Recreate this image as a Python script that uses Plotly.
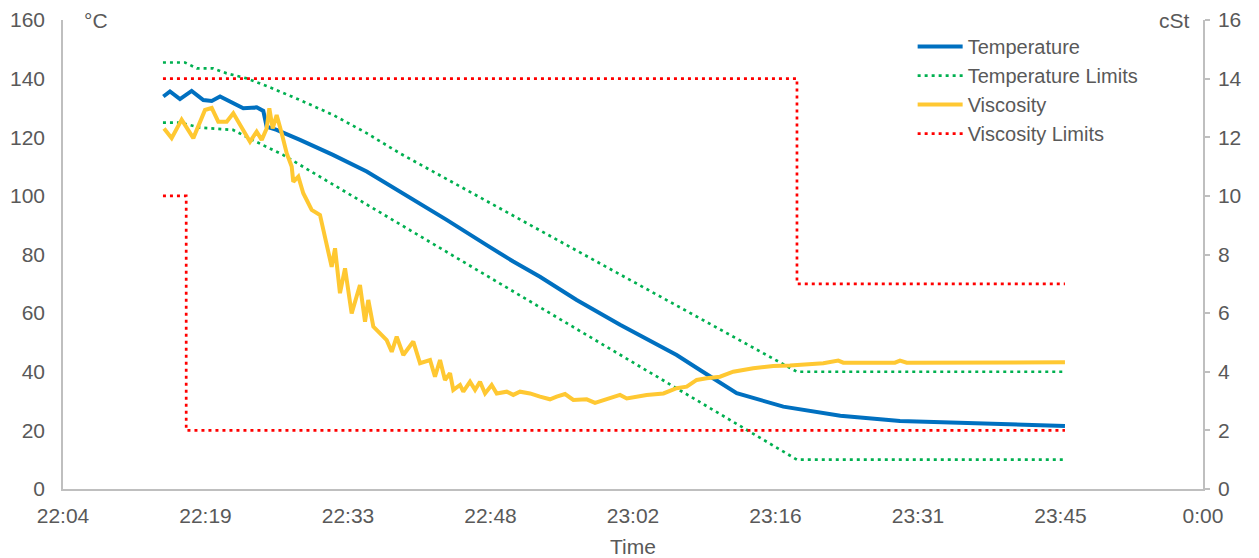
import pandas as pd
import plotly.graph_objects as go

# ---- data (time = minutes after 22:00) ----
temp_t = [14.94, 15.61, 16.62, 17.80, 18.98, 19.83, 20.67, 22.01, 23.02, 24.37, 25.04, 25.38,
          26.39, 28.75, 32.08, 35.49, 38.85, 43.57, 47.62, 50.3, 53.0, 56.71, 61.09, 66.81,
          69.17, 72.88, 77.59, 83.35, 89.38, 96.12, 102.85, 106.05]
temp_v = [133.9, 135.6, 133.0, 135.8, 132.7, 132.4, 133.9, 131.4, 129.9, 130.2, 129.0, 123.6,
          122.5, 119.1, 114.0, 108.3, 101.5, 91.8, 83.2, 77.6, 72.4, 64.5, 56.0, 45.7,
          40.6, 32.7, 28.1, 25.0, 23.2, 22.6, 21.8, 21.5]

tlim_hi_t = [14.9, 17.13, 18.34, 19.96, 21.34, 23.36, 25.38, 28.75, 32.11, 35.49, 38.85, 78.97, 106.05]
tlim_hi_v = [145.5, 145.5, 143.5, 143.5, 141.8, 140.1, 137.5, 132.7, 127.6, 121.4, 114.5, 40.0, 40.0]
tlim_lo_t = [14.9, 16.62, 18.64, 21.98, 24.0, 27.03, 78.97, 106.05]
tlim_lo_v = [125.0, 125.0, 123.3, 122.5, 119.0, 114.0, 10.0, 10.0]

visc_t = [15.01, 15.78, 16.79, 17.97, 19.15, 19.83, 20.49, 21.34, 22.01, 22.69, 23.70, 24.37,
          24.88, 25.38, 25.65, 25.99, 26.39, 26.90, 27.41, 27.91, 28.07, 28.58, 29.08, 29.43,
          29.93, 30.77, 31.45, 31.95, 32.29, 32.79, 33.30, 33.97, 34.81, 35.32, 35.65, 36.16,
          37.51, 38.02, 38.52, 39.19, 40.20, 40.88,
          41.89, 42.39, 42.90, 43.40, 43.91, 44.24, 44.92, 45.25, 45.93, 46.44, 46.94, 47.45,
          48.12, 48.63, 49.64, 50.30, 50.98, 51.99, 53.00, 54.01, 54.69, 55.53, 56.37, 57.72,
          58.56, 59.40, 61.09, 61.77, 63.78, 65.48, 66.81, 67.83, 68.84, 69.85,
          71.19, 72.53, 74.55, 76.57, 78.26, 81.63, 83.14, 83.65, 88.87, 89.38, 90.06, 106.05]
visc_v = [12.3, 11.97, 12.6, 11.97, 12.93, 13.0, 12.53, 12.53, 12.82, 12.42, 11.85, 12.19,
          11.91, 12.3, 12.99, 12.3, 12.76, 12.14, 11.45, 11.0, 10.48, 10.66, 10.09, 9.86,
          9.52, 9.35, 8.38, 7.58, 8.21, 6.68, 7.53, 5.99, 6.96, 5.71, 6.45, 5.54,
          5.08, 4.68, 5.2, 4.57, 5.03, 4.29,
          4.40, 3.83, 4.40, 3.72, 3.95, 3.38, 3.55, 3.32, 3.66, 3.38, 3.66, 3.26,
          3.55, 3.26, 3.32, 3.21, 3.32, 3.26, 3.15, 3.06, 3.15, 3.24, 3.04, 3.06,
          2.94, 3.04, 3.21, 3.09, 3.21, 3.26, 3.44, 3.49, 3.72, 3.78,
          3.83, 4.0, 4.12, 4.2, 4.21, 4.29, 4.38, 4.31, 4.31, 4.38, 4.31, 4.32]

vlim_hi_t = [14.9, 78.97, 78.97, 106.05]
vlim_hi_v = [14, 14, 7, 7]
vlim_lo_t = [14.9, 17.25, 17.25, 106.05]
vlim_lo_v = [10, 10, 2, 2]

tick_labels = ["22:04", "22:19", "22:33", "22:48", "23:02", "23:16", "23:31", "23:45", "0:00"]

BASE = pd.Timestamp("2024-01-01 22:00:00")


def ts(mins):
    return [BASE + pd.Timedelta(minutes=m) for m in mins]


tick_vals = [BASE + pd.Timedelta(minutes=4.8 + 14.4 * i) for i in range(len(tick_labels))]

FONT = "Liberation Sans, Arial, sans-serif"
GREY = "#595959"
AX = "#BFBFBF"
DOT = "3px,4px"

fig = go.Figure()
fig.add_trace(go.Scatter(x=ts(temp_t), y=temp_v, name="Temperature", mode="lines",
                         line=dict(color="#0070C0", width=4), legendrank=1))
fig.add_trace(go.Scatter(x=ts(tlim_hi_t), y=tlim_hi_v, name="Temperature Limits", mode="lines",
                         line=dict(color="#00B050", width=2.7, dash=DOT), legendrank=2,
                         legendgroup="tl"))
fig.add_trace(go.Scatter(x=ts(tlim_lo_t), y=tlim_lo_v, name="Temperature Limits", mode="lines",
                         line=dict(color="#00B050", width=2.7, dash=DOT), showlegend=False,
                         legendgroup="tl"))
fig.add_trace(go.Scatter(x=ts(visc_t), y=visc_v, name="Viscosity", mode="lines", yaxis="y2",
                         line=dict(color="#FFC832", width=4), legendrank=3))
fig.add_trace(go.Scatter(x=ts(vlim_hi_t), y=vlim_hi_v, name="Viscosity Limits", mode="lines",
                         yaxis="y2", line=dict(color="#FF0000", width=2.7, dash=DOT),
                         legendrank=4, legendgroup="vl"))
fig.add_trace(go.Scatter(x=ts(vlim_lo_t), y=vlim_lo_v, name="Viscosity Limits", mode="lines",
                         yaxis="y2", line=dict(color="#FF0000", width=2.7, dash=DOT),
                         showlegend=False, legendgroup="vl"))

fig.update_layout(
    width=1259, height=558,
    margin=dict(l=63, r=56, t=20, b=69, autoexpand=False),
    paper_bgcolor="white", plot_bgcolor="white",
    font=dict(family=FONT, size=21, color=GREY),
    xaxis=dict(type="date", range=[tick_vals[0], tick_vals[-1]], tickmode="array",
               tickvals=tick_vals, ticktext=tick_labels, showgrid=False, zeroline=False,
               showline=True, linecolor=AX, linewidth=1.5, ticks="", ticklabelstandoff=7,
               automargin=False,
               title=dict(text="Time", standoff=14, font=dict(size=21, color=GREY))),
    yaxis=dict(range=[0, 160], dtick=20, showgrid=False, zeroline=False, showline=True,
               linecolor=AX, linewidth=1.5, ticks="", ticklabelstandoff=12, automargin=False),
    yaxis2=dict(range=[0, 16], dtick=2, overlaying="y", side="right", showgrid=False,
                zeroline=False, showline=True, linecolor=AX, linewidth=1.5, ticks="outside",
                ticklen=5, tickcolor=AX, tickwidth=1.5, ticklabelstandoff=4, automargin=False),
    legend=dict(x=0.7453, y=0.985, xanchor="left", yanchor="top", bgcolor="rgba(0,0,0,0)",
                font=dict(size=20, color=GREY), tracegroupgap=0, itemwidth=45,
                traceorder="normal"),
    annotations=[
        dict(text="°C", xref="paper", yref="paper", x=0.0167, y=1.0, xanchor="left",
             yanchor="middle", showarrow=False, font=dict(size=21, color=GREY)),
        dict(text="cSt", xref="paper", yref="paper", x=0.990, y=1.0, xanchor="right",
             yanchor="middle", showarrow=False, font=dict(size=21, color=GREY)),
    ],
)

fig.write_html("out.html", config={"displayModeBar": False},
               post_script="document.body.style.margin='0';")
